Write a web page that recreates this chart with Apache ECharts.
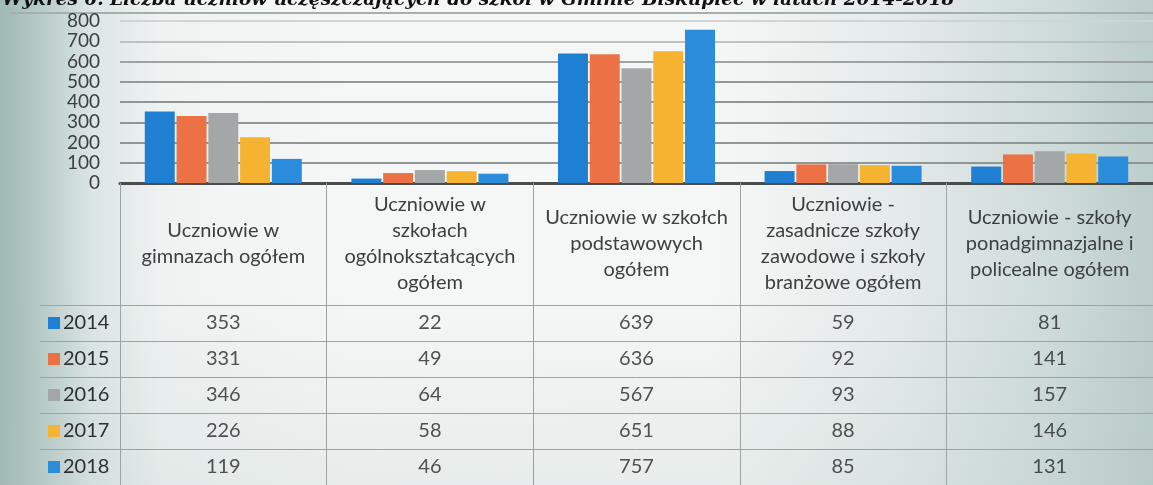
<!DOCTYPE html>
<html>
<head>
<meta charset="utf-8">
<script src="https://cdn.jsdelivr.net/npm/echarts@6/dist/echarts.min.js"></script>
<style>
  html, body { margin: 0; padding: 0; width: 1153px; height: 485px; overflow: hidden; }
  body {
    background: linear-gradient(90deg, #9fb9b5 0%, #b3c8c4 3%, #dce6e4 8%, #eef3f2 14%, #f5f7f6 30%, #f4f7f6 62%, #e4ebea 78%, #cddad8 92%, #bccdca 100%);
    position: relative;
  }
  #shade { position: absolute; left: 0; top: 0; width: 1153px; height: 485px;
    background: linear-gradient(180deg, rgba(255,255,255,0) 0%, rgba(255,255,255,0) 60%, rgba(170,190,186,0.18) 100%); }
  #frame { position: absolute; left: 10px; right: 0; top: 12px; height: 0; border-top: 2px solid #a4b0ae; }
  #chart { position: absolute; left: 0; top: 0; width: 1153px; height: 485px; }
</style>
</head>
<body>
<div id="shade"></div>
<div id="frame"></div>
<div id="chart"></div>
<script>
const titleText = 'Wykres 6. Liczba uczniów uczęszczających do szkół w Gminie Biskupiec w latach 2014-2018';
const categories = [
  'Uczniowie w\ngimnazach ogółem',
  'Uczniowie w\nszkołach\nogólnokształcących\nogółem',
  'Uczniowie w szkołch\npodstawowych\nogółem',
  'Uczniowie -\nzasadnicze szkoły\nzawodowe i szkoły\nbranżowe ogółem',
  'Uczniowie - szkoły\nponadgimnazjalne i\npolicealne ogółem'
];
const years = ['2014', '2015', '2016', '2017', '2018'];
const values2014 = [353, 22, 639, 59, 81];
const values2015 = [331, 49, 636, 92, 141];
const values2016 = [346, 64, 567, 93, 157];
const values2017 = [226, 58, 651, 88, 146];
const values2018 = [119, 46, 757, 85, 131];
const yearColors = ['#1f80d3', '#ec7145', '#a4a7a7', '#f6b332', '#2a8cdb'];

const allValues = [values2014, values2015, values2016, values2017, values2018];
const FONT = 'Lato';

const barSeries = years.map((y, i) => ({
  name: y,
  type: 'bar',
  xAxisIndex: 0,
  yAxisIndex: 0,
  data: allValues[i],
  barCategoryGap: '24%',
  barGap: '6%',
  itemStyle: { color: yearColors[i] },
  z: 3
}));

const cellData = [];
allValues.forEach((arr, yi) => arr.forEach((v, ci) => cellData.push([ci, yi, v])));

const rich = { y: { fontFamily: FONT, fontSize: 20, color: '#2e3030', padding: [0, 0, 0, 3] } };
yearColors.forEach((c, i) => { rich['s' + i] = { backgroundColor: c, width: 12, height: 12 }; });

const chart = echarts.init(document.getElementById('chart'), null, { renderer: 'canvas' });
chart.setOption({
  backgroundColor: 'transparent',
  animation: false,
  title: {
    text: titleText,
    left: -3,
    top: -14,
    textStyle: { fontFamily: 'DejaVu Serif', fontStyle: 'italic', fontWeight: 'bold', fontSize: 18.5, color: '#111' }
  },
  grid: [
    { left: 120, top: 21, width: 1045, height: 162 },
    { left: 120, top: 305, width: 1045, height: 180 }
  ],
  xAxis: [
    {
      gridIndex: 0, type: 'category', data: categories,
      axisLine: { show: true, lineStyle: { color: '#4a4d4d', width: 3 } },
      axisTick: { show: true, length: 122, lineStyle: { color: '#9aa4a3', width: 1 } },
      axisLabel: { interval: 0, margin: 61, verticalAlign: 'middle', fontFamily: FONT, fontSize: 20, lineHeight: 26, color: '#3d4040' }
    },
    {
      gridIndex: 1, type: 'category', data: categories, position: 'top',
      axisLine: { show: true, lineStyle: { color: '#9aa4a3', width: 1 } },
      axisTick: { show: false },
      axisLabel: { show: false },
      splitLine: { show: true, lineStyle: { color: '#9aa4a3', width: 1 } }
    }
  ],
  yAxis: [
    {
      gridIndex: 0, type: 'value', min: 0, max: 800, interval: 100,
      axisLine: { show: false }, axisTick: { show: false },
      axisLabel: { margin: 20, fontFamily: FONT, fontSize: 19, color: '#3d4040' },
      splitLine: { show: true, lineStyle: { color: ['#8f9696', '#8f9696', '#8f9696', '#8f9696', '#8f9696', '#939a9a', '#9ea4a4', '#bcc2c2', '#cfd4d4'], width: 2 } }
    },
    {
      gridIndex: 1, type: 'category', data: years, inverse: true,
      axisLine: { show: true, lineStyle: { color: '#9aa4a3', width: 1 } },
      axisTick: { show: true, length: 80, lineStyle: { color: '#9aa4a3', width: 1 } },
      axisLabel: {
        align: 'left', margin: 72,
        formatter: (v, i) => '{s' + i + '|}{y|' + v + '}',
        rich: rich
      },
      splitLine: { show: true, lineStyle: { color: '#9aa4a3', width: 1 } }
    },
    {
      gridIndex: 1, type: 'category', data: years, inverse: true, offset: 80,
      axisLine: { show: true, lineStyle: { color: '#a9b3b1', width: 1 } },
      axisTick: { show: false }, axisLabel: { show: false }, splitLine: { show: false }
    }
  ],
  series: barSeries.concat([{
    type: 'scatter',
    xAxisIndex: 1,
    yAxisIndex: 1,
    data: cellData,
    symbol: 'rect',
    symbolSize: 1,
    itemStyle: { color: 'transparent' },
    label: {
      show: true, position: 'inside',
      formatter: p => String(p.value[2]),
      fontFamily: FONT, fontSize: 20, color: '#262828'
    },
    silent: true
  }])
});
</script>
</body>
</html>
